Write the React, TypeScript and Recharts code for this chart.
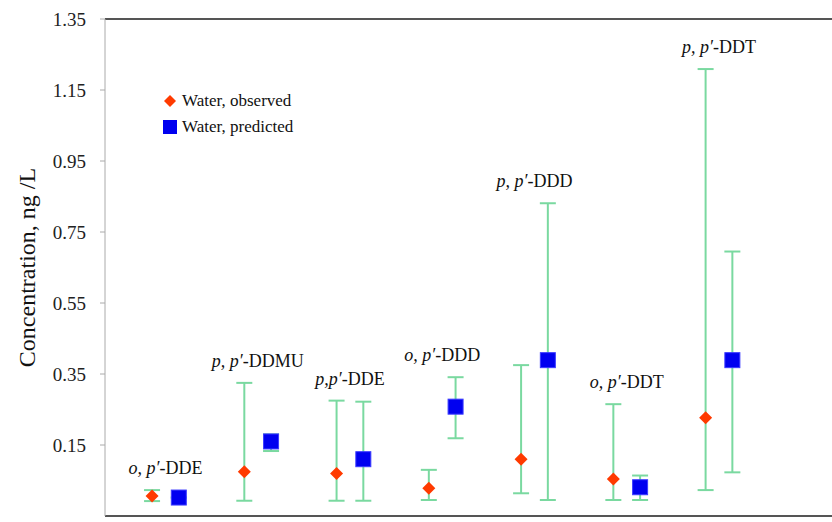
import { ScatterChart, Scatter, XAxis, YAxis, ErrorBar, ReferenceLine, Legend, Label } from 'recharts'

const categories = ["o,p'-DDE", "p,p'-DDMU", "p,p'-DDE", "o,p'-DDD", "p,p'-DDD", "o,p'-DDT", "p,p'-DDT"]
const labelPrefix = ['o, p′', 'p, p′', 'p,p′', 'o, p′', 'p, p′', 'o, p′', 'p, p′']
const labelSuffix = ['-DDE', '-DDMU', '-DDE', '-DDD', '-DDD', '-DDT', '-DDT']

const observed = [0.006, 0.075, 0.07, 0.028, 0.11, 0.054, 0.227]
const observedLow = [-0.008, -0.007, -0.007, -0.005, 0.014, -0.005, 0.023]
const observedHigh = [0.023, 0.325, 0.275, 0.08, 0.375, 0.265, 1.209]

const predicted = [0.002, 0.16, 0.11, 0.258, 0.389, 0.031, 0.389]
const predictedLow = [0.002, 0.133, -0.007, 0.169, -0.005, -0.005, 0.073]
const predictedHigh = [0.002, 0.18, 0.272, 0.341, 0.831, 0.064, 0.695]

const yTicks = [-0.05, 0.15, 0.35, 0.55, 0.75, 0.95, 1.15, 1.35]

const FONT = '"Liberation Serif", "Times New Roman", serif'
const RED = '#ff3a00'
const BLUE = '#0000f0'
const GREEN = '#7ad9a0'
const PRED_OFFSET = 0.29

const observedRows = categories.map((name, i) => ({
  name,
  x: i + 1,
  y: observed[i],
  err: [observed[i] - observedLow[i], observedHigh[i] - observed[i]]
}))

const predictedRows = categories.map((name, i) => ({
  name,
  x: i + 1 + PRED_OFFSET,
  y: predicted[i],
  err: [predicted[i] - predictedLow[i], predictedHigh[i] - predicted[i]]
}))

// group name sits above the taller of the two error bars
const labelRows = categories.map((name, i) => ({
  name,
  x: i + 1 + PRED_OFFSET / 2,
  y: Math.max(observedHigh[i], predictedHigh[i]),
  prefix: labelPrefix[i],
  suffix: labelSuffix[i]
}))

const Diamond = ({ cx, cy }: any) => {
  const r = 6.5
  return <polygon points={`${cx},${cy - r} ${cx + r},${cy} ${cx},${cy + r} ${cx - r},${cy}`} fill={RED} />
}

const Square = ({ cx, cy }: any) => (
  <rect x={cx - 7.5} y={cy - 7.5} width={15} height={15} fill={BLUE} stroke="#3b3bff" strokeWidth={1} />
)

const GroupLabel = ({ cx, cy, payload }: any) => (
  <text x={cx} y={cy - 16} textAnchor="middle" fontFamily={FONT} fontSize={18} fill="#111">
    <tspan fontStyle="italic">{payload.prefix}</tspan>
    <tspan>{payload.suffix}</tspan>
  </text>
)

const LegendBox = () => (
  <div style={{ fontFamily: FONT, fontSize: 17, color: '#111', lineHeight: '26px', whiteSpace: 'nowrap' }}>
    <div style={{ display: 'flex', alignItems: 'center' }}>
      <svg width={14} height={14} style={{ marginRight: 5 }}>
        <polygon points="7,1 13,7 7,13 1,7" fill={RED} />
      </svg>
      Water, observed
    </div>
    <div style={{ display: 'flex', alignItems: 'center' }}>
      <svg width={14} height={14} style={{ marginRight: 5 }}>
        <rect x={0} y={0} width={14} height={14} fill={BLUE} />
      </svg>
      Water, predicted
    </div>
  </div>
)

export default function App() {
  return (
    <div style={{ position: 'absolute', left: 0, top: 0, background: '#fff' }}>
      <ScatterChart width={832} height={522} margin={{ top: 19, right: 0, bottom: 0, left: 0 }}>
        <XAxis
          type="number"
          dataKey="x"
          domain={[0.49, 8.37]}
          allowDataOverflow
          tick={false}
          tickLine={false}
          height={6}
          axisLine={{ stroke: '#555', strokeWidth: 2 }}
        />
        <YAxis
          type="number"
          dataKey="y"
          domain={[-0.05, 1.35]}
          ticks={yTicks}
          allowDataOverflow
          width={105}
          tickSize={5}
          tickMargin={14}
          tickFormatter={(v: number) => v.toFixed(2)}
          tick={{ fontFamily: FONT, fontSize: 19, fill: '#222' }}
          axisLine={{ stroke: '#aaa' }}
          tickLine={{ stroke: '#aaa' }}
        >
          <Label
            content={({ viewBox }: any) => {
              const x = viewBox.x + 27
              const y = viewBox.y + viewBox.height / 2
              return (
                <text x={x} y={y} transform={`rotate(-90, ${x}, ${y})`} textAnchor="middle"
                  dominantBaseline="central" fontFamily={FONT} fontSize={24} fill="#111">
                  Concentration, ng /L
                </text>
              )
            }}
          />
        </YAxis>
        <ReferenceLine y={1.35} stroke="#555" strokeWidth={2} />
        <Legend
          layout="horizontal"
          verticalAlign="middle"
          align="center"
          content={<LegendBox />}
          wrapperStyle={{ top: 88, left: 163, width: 'auto' }}
        />
        <Scatter name="Water, observed" data={observedRows} shape={<Diamond />} isAnimationActive={false}>
          <ErrorBar dataKey="err" direction="y" width={8} stroke={GREEN} strokeWidth={2} />
        </Scatter>
        <Scatter name="Water, predicted" data={predictedRows} shape={<Square />} isAnimationActive={false}>
          <ErrorBar dataKey="err" direction="y" width={8} stroke={GREEN} strokeWidth={2} />
        </Scatter>
        <Scatter name="labels" data={labelRows} shape={<GroupLabel />} legendType="none" isAnimationActive={false} />
      </ScatterChart>
    </div>
  )
}
